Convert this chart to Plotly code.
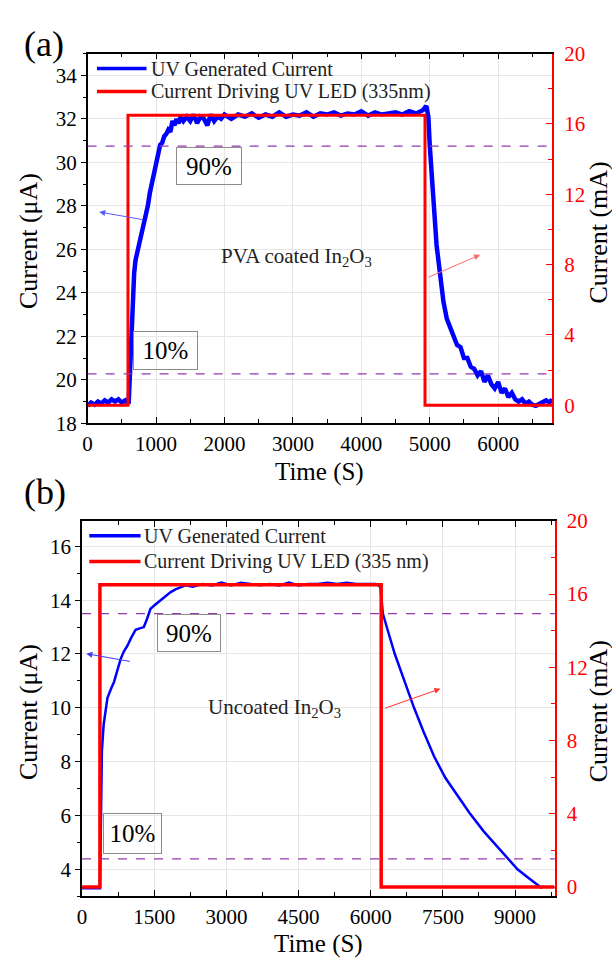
import plotly.graph_objects as go

# ---------------- data: panel (a) PVA coated In2O3 ----------------
time_a = [0, 50, 100, 150, 200, 250, 300, 350, 400, 450, 500, 550, 600,
          620, 640, 660, 680, 700, 730, 760, 790, 820, 850, 880, 910, 940, 970,
          1000, 1030, 1060, 1090, 1120, 1150, 1180, 1210, 1240, 1270, 1300, 1330, 1360, 1400,
          1450, 1500, 1550, 1600, 1650, 1700, 1750, 1800, 1850, 1900, 1950, 2000,
          2100, 2200, 2300, 2400, 2500, 2600, 2700, 2800, 2900, 3000, 3100, 3200, 3300, 3400,
          3500, 3600, 3700, 3800, 3900, 4000, 4100, 4200, 4300, 4400, 4500, 4600, 4700, 4800, 4900,
          4950, 4980,
          5000, 5030, 5060, 5100, 5150, 5200, 5250, 5300, 5350, 5400, 5450, 5500, 5550, 5600,
          5650, 5700, 5750, 5800, 5850, 5900, 5950, 6000, 6050, 6100, 6150, 6200, 6250, 6300,
          6350, 6400, 6450, 6500, 6550, 6600, 6650, 6700, 6750, 6790]
uv_a = [18.8, 18.95, 18.85, 19.0, 18.9, 19.05, 18.95, 19.1, 19.0, 19.1, 18.95, 19.05, 18.9,
        20.3, 22.4, 24.0, 24.9, 25.5, 25.9, 26.3, 26.6, 27.2, 27.5, 28.0, 28.6, 29.0, 29.6,
        29.9, 30.3, 30.8, 30.9, 31.2, 31.3, 31.5, 31.4, 31.9, 31.7, 32.0, 31.8, 32.1, 31.9,
        32.1, 31.9, 32.2, 31.8, 32.1, 32.0, 31.7, 32.2, 31.9, 32.1, 32.0, 32.2,
        32.0, 32.2, 32.1, 32.25, 32.05, 32.2, 32.1, 32.3, 32.1, 32.2, 32.15, 32.3, 32.1, 32.25,
        32.2, 32.3, 32.15, 32.25, 32.2, 32.35, 32.15, 32.3, 32.2, 32.25, 32.3, 32.2, 32.35, 32.25, 32.4,
        32.6, 32.1,
        30.8, 29.2, 27.6, 26.2, 24.9, 23.6, 22.8, 22.4, 22.1, 21.6, 21.5, 21.0, 21.0, 20.6,
        20.5, 20.2, 20.4, 19.9, 20.2, 19.8, 19.6, 19.9, 19.4, 19.6, 19.2, 19.4, 19.1, 19.0,
        19.1, 18.9, 19.0, 18.85, 18.8, 18.9, 18.95, 19.05, 18.95, 19.1]
led_time_a = [0, 590, 4931, 6790]
led_a = [0, 16.5, 0, 0]
level90_a = 30.75
level10_a = 20.27

# ---------------- data: panel (b) uncoated In2O3 ----------------
time_b = [0, 100, 200, 300, 371, 390, 412, 450, 528, 600, 666, 735, 803, 870, 940, 1020,
          1113, 1200, 1284, 1350, 1422, 1500, 1628, 1730, 1835, 1940, 2041, 2150, 2300,
          2500, 2700, 2900, 3100, 3300, 3500, 3700, 3900, 4100, 4300, 4500, 4700, 4900,
          5100, 5300, 5500, 5700, 5900, 6100, 6200, 6252, 6350, 6500, 6700, 6900, 7100,
          7318, 7550, 7798, 8050, 8348, 8600, 8829, 9050, 9300, 9516, 9560]
uv_b = [3.3, 3.3, 3.3, 3.3, 3.3, 5.5, 8.4, 9.4, 10.37, 10.7, 10.97, 11.4, 11.82, 12.1, 12.3, 12.6,
        12.9, 12.95, 13.0, 13.3, 13.68, 13.8, 13.99, 14.15, 14.29, 14.4, 14.47, 14.55, 14.5,
        14.6, 14.55, 14.65, 14.55, 14.65, 14.6, 14.55, 14.6, 14.55, 14.65, 14.55, 14.6, 14.6,
        14.65, 14.6, 14.65, 14.6, 14.6, 14.6, 14.5, 13.5, 12.9, 12.0, 11.0, 10.0, 9.1,
        8.19, 7.4, 6.74, 6.1, 5.41, 4.9, 4.45, 4.0, 3.65, 3.38, 3.3]
led_time_b = [0, 371, 6217, 9820]
led_b = [0, 16.5, 0, 0]
level90_b = 13.5
level10_b = 4.39

legend_names_a = ["UV Generated Current", "Current Driving UV LED (335nm)"]
legend_names_b = ["UV Generated Current", "Current Driving UV LED (335 nm)"]

# ---------------- figure ----------------
W, H = 612, 968
def px(x):
    return x / W
def py(y):
    return 1 - y / H

SERIF = "Liberation Serif, Times New Roman, serif"
BLUE = "#0000FF"
RED = "#FF0000"
GRID = "#e6e6e6"
DASH = "#9438B0"

fig = go.Figure()
fig.add_trace(go.Scatter(x=time_a, y=uv_a, xaxis="x", yaxis="y", mode="lines",
                         line=dict(color=BLUE, width=4.5), name=legend_names_a[0], showlegend=False))
fig.add_trace(go.Scatter(x=led_time_a, y=led_a, xaxis="x", yaxis="y2", mode="lines",
                         line=dict(color=RED, width=3, shape="hv"), name=legend_names_a[1], showlegend=False))
fig.add_trace(go.Scatter(x=time_b, y=uv_b, xaxis="x2", yaxis="y3", mode="lines",
                         line=dict(color=BLUE, width=2.5), name=legend_names_b[0], showlegend=False))
fig.add_trace(go.Scatter(x=led_time_b, y=led_b, xaxis="x2", yaxis="y4", mode="lines",
                         line=dict(color=RED, width=3.5, shape="hv"), name=legend_names_b[1], showlegend=False))

tickfont = dict(family=SERIF, size=21, color="black")
redfont = dict(family=SERIF, size=21, color=RED)

def xax(domain, rng, dtick, anchor):
    return dict(domain=domain, range=rng, anchor=anchor, dtick=dtick, tick0=0, tickformat="d",
                ticks="inside", ticklen=6, tickwidth=1.2, tickcolor="black",
                minor=dict(dtick=dtick / 2, ticks="inside", ticklen=4, tickcolor="black", showgrid=False),
                showline=True, linecolor="black", linewidth=1.5, mirror="ticks",
                showgrid=True, gridcolor=GRID, zeroline=False, tickfont=tickfont,
                ticklabelstandoff=1)

def yleft(domain, rng, anchor):
    return dict(domain=domain, range=rng, anchor=anchor, dtick=2, tick0=0,
                ticks="outside", ticklen=5, tickwidth=1.2, tickcolor="black",
                minor=dict(dtick=1, ticks="outside", ticklen=3, tickcolor="black", showgrid=False),
                showline=True, linecolor="black", linewidth=1.5,
                showgrid=True, gridcolor=GRID, zeroline=False, tickfont=tickfont)

def yright(over, rng, anchor):
    return dict(overlaying=over, side="right", anchor=anchor, range=rng, dtick=4, tick0=0,
                ticks="inside", ticklen=6, tickwidth=1.2, tickcolor=RED,
                minor=dict(dtick=2, ticks="inside", ticklen=4, tickcolor=RED, showgrid=False),
                showline=True, linecolor=RED, linewidth=1.5,
                showgrid=False, zeroline=False, tickfont=redfont,
                ticklabelstandoff=6)

fig.update_layout(
    width=W, height=H,
    margin=dict(l=0, r=0, t=0, b=0),
    paper_bgcolor="white", plot_bgcolor="white",
    font=dict(family=SERIF, color="black"),
    showlegend=False,
    xaxis=xax([px(83.3), px(551.7)], [0, 6790], 1000, "y"),
    yaxis=yleft([py(421.7), py(42.7)], [18, 35], "x"),
    yaxis2=yright("y", [-1.02, 20], "x"),
    xaxis2=xax([px(77.7), px(554.3)], [0, 9825], 1500, "y3"),
    yaxis3=yleft([py(906.7), py(521.7)], [3, 16.95], "x2"),
    yaxis4=yright("y3", [-0.5, 20], "x2"),
)

shapes = []
# 90% / 10% dashed reference lines
for yref, xref, lvl in [("y", "x domain", level90_a), ("y", "x domain", level10_a),
                        ("y3", "x2 domain", level90_b), ("y3", "x2 domain", level10_b)]:
    shapes.append(dict(type="line", xref=xref, yref=yref, x0=0, x1=1, y0=lvl, y1=lvl,
                       line=dict(color=DASH, width=1.3, dash="dash")))

annotations = []

def text(t, x, y, size, angle=0, xanchor="center", color="black", pad=1):
    annotations.append(dict(text=t, xref="paper", yref="paper", x=px(x), y=py(y),
                            xanchor=xanchor, yanchor="middle", showarrow=False, textangle=angle,
                            borderpad=pad, font=dict(family=SERIF, size=size, color=color)))

# axis titles
text("Current (μA)", 23, 235, 26, angle=-90)
text("Current (mA)", 598, 226, 26, angle=-90)
text("Time (S)", 317, 472, 25, pad=0)
text("Current (μA)", 23, 718, 26, angle=-90)
text("Current (mA)", 598, 717, 26, angle=-90)
text("Time (S)", 316, 956, 25, pad=0)

# legends (drawn manually to match line sample length)
def legend(x0, x1, xt, ys, names):
    for yy, col, nm in zip(ys, [BLUE, RED], names):
        shapes.append(dict(type="line", xref="paper", yref="paper", x0=px(x0), x1=px(x1),
                           y0=py(yy), y1=py(yy), line=dict(color=col, width=3.5)))
        text(nm, xt, yy, 20, xanchor="left", color="#222222", pad=0)

legend(92.7, 142.7, 146, [58, 81.5], legend_names_a)
legend(85, 136.7, 139, [537, 563.5], legend_names_b)

# percentage boxes
for txt, cx, cy, w, h in [("90%", 206, 158, 64, 36), ("10%", 161.5, 347.5, 63, 37),
                          ("90%", 186, 637, 62, 36), ("10%", 128.5, 842.5, 57, 39)]:
    annotations.append(dict(text=txt, xref="paper", yref="paper", x=px(cx), y=py(cy),
                            xanchor="center", yanchor="middle", showarrow=False,
                            width=w, height=h, bordercolor="#8c8c8c", borderwidth=1, borderpad=0,
                            bgcolor="rgba(255,255,255,0)",
                            font=dict(family=SERIF, size=25, color="black")))

# sample labels
text("PVA coated In<sub>2</sub>O<sub>3</sub>", 216, 251, 21, xanchor="left", color="#222222")
text("Uncoated In<sub>2</sub>O<sub>3</sub>", 203, 714, 21, xanchor="left", color="#222222")

# axis pointer arrows
for hx, hy, ax, ay, col in [(95, 205, 45, 8, "#5a5aff"), (479, 249, -53, 23, "#ff6a6a"),
                            (82, 658, 45, 8, "#3c3cff"), (439, 694, -57, 20, "#ff3030")]:
    annotations.append(dict(text="", xref="paper", yref="paper", x=px(hx), y=py(hy),
                            ax=ax, ay=ay, showarrow=True, arrowhead=2, arrowsize=1.2,
                            arrowwidth=1, arrowcolor=col))

# panel labels
text("(a)", 39, 33, 36)
text("(b)", 40, 492, 36)

fig.update_layout(shapes=shapes, annotations=annotations)
fig.write_html("out.html", config={"displayModeBar": False},
               post_script="document.body.style.margin='0';")
